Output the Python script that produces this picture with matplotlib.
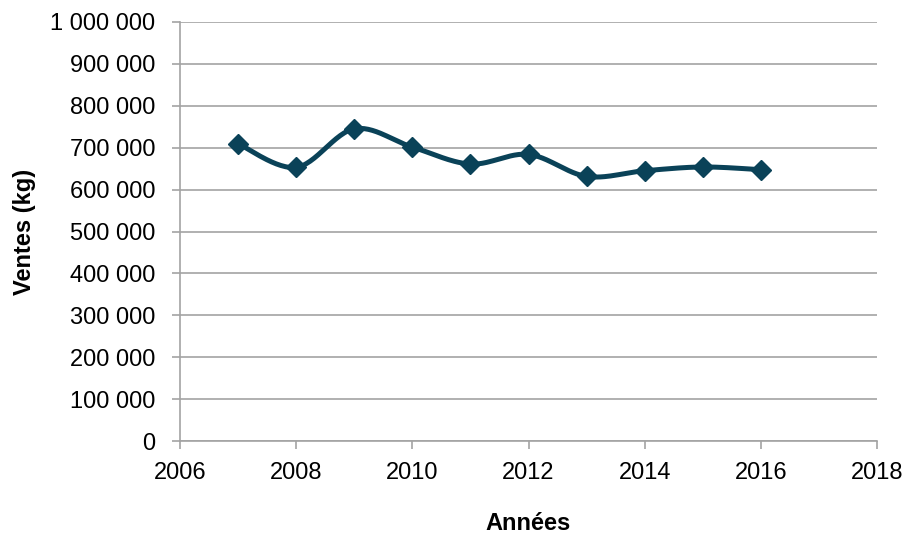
import numpy as np
import matplotlib
matplotlib.use("Agg")
import matplotlib.pyplot as plt
from matplotlib.ticker import FuncFormatter, MultipleLocator

plt.rcParams['font.family'] = ['Liberation Sans Narrow', 'Liberation Sans', 'DejaVu Sans']

# data
years = [2007, 2008, 2009, 2010, 2011, 2012, 2013, 2014, 2015, 2016]
ventes = [709500, 653000, 745000, 701500, 661000, 684000, 631500, 645000, 654000, 647500]

line_color = '#0a4258'
grid_color = '#a3a3a3'


def smooth(x, y, n=30):
    # Excel-like smoothed line (Catmull-Rom through the points)
    x = np.asarray(x, float)
    y = np.asarray(y, float)
    px = np.concatenate([[x[0]], x, [x[-1]]])
    py = np.concatenate([[y[0]], y, [y[-1]]])
    xs, ys = [], []
    t = np.linspace(0, 1, n)
    for i in range(1, len(px) - 2):
        p0 = np.array([px[i - 1], py[i - 1]])
        p1 = np.array([px[i], py[i]])
        p2 = np.array([px[i + 1], py[i + 1]])
        p3 = np.array([px[i + 2], py[i + 2]])
        c1 = p1 + (p2 - p0) / 6
        c2 = p2 - (p3 - p1) / 6
        for tt in t:
            b = ((1 - tt) ** 3 * p1 + 3 * (1 - tt) ** 2 * tt * c1
                 + 3 * (1 - tt) * tt ** 2 * c2 + tt ** 3 * p2)
            xs.append(b[0])
            ys.append(b[1])
    return xs, ys


fig = plt.figure(figsize=(9.05, 5.4), dpi=100)
ax = fig.add_axes([180 / 905, 1 - 441 / 540, (877 - 180) / 905, (441 - 22) / 540])

sx, sy = smooth(years, ventes)
ax.plot(sx, sy, color=line_color, lw=3.6, solid_capstyle='round', zorder=3)
ax.plot(years, ventes, linestyle='none', marker='D', markersize=10.5,
        color=line_color, zorder=4)

ax.set_xlim(2006, 2018)
ax.set_ylim(0, 1000000)
ax.xaxis.set_major_locator(MultipleLocator(2))
ax.yaxis.set_major_locator(MultipleLocator(100000))
ax.yaxis.set_major_formatter(FuncFormatter(lambda v, p: f"{int(v):,}".replace(",", " ")))

ax.grid(axis='y', color=grid_color, lw=1.2)
ax.set_axisbelow(True)
for s in ['top', 'right']:
    ax.spines[s].set_visible(False)
for s in ['left', 'bottom']:
    ax.spines[s].set_color(grid_color)
    ax.spines[s].set_linewidth(1.2)
ax.tick_params(axis='both', colors=grid_color, width=1.2, length=6,
               labelcolor='black', labelsize=17)
ax.tick_params(axis='y', pad=12)
ax.tick_params(axis='x', pad=9)

ax.set_xlabel('Années', fontsize=17, fontweight='bold', labelpad=20)
ax.set_ylabel('Ventes (kg)', fontsize=17, fontweight='bold', labelpad=10)

fig.savefig('out.png', dpi=100)
